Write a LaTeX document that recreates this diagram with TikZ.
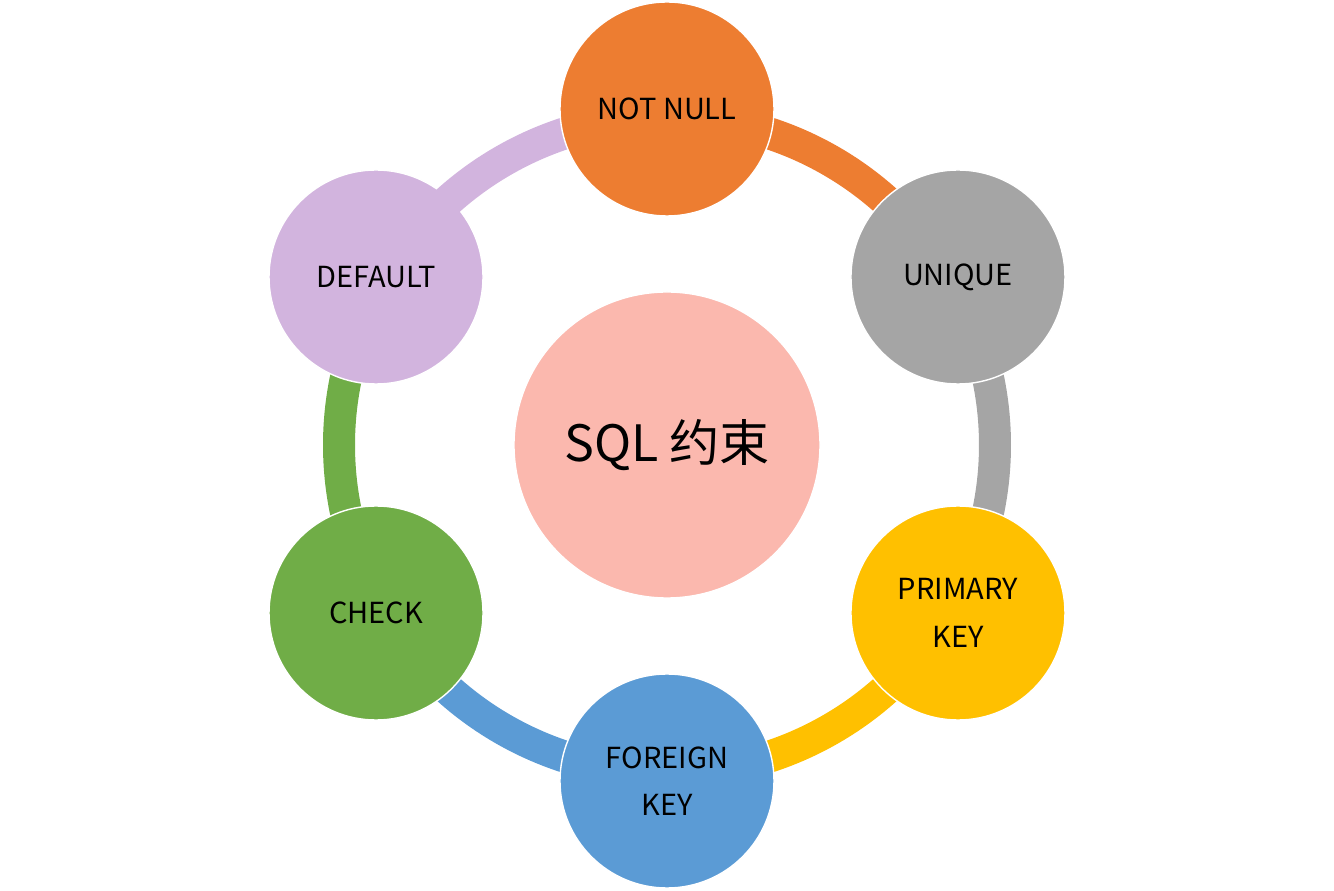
\documentclass[tikz,border=0pt]{standalone}
\usepackage{fontspec}
\setmainfont{Noto Sans CJK SC}
\definecolor{laranja}{HTML}{ED7D31}
\definecolor{cinza}{HTML}{A5A5A5}
\definecolor{amarelo}{HTML}{FFC000}
\definecolor{azul}{HTML}{5B9BD5}
\definecolor{verde}{HTML}{70AD47}
\definecolor{lilas}{HTML}{D2B4DE}
\definecolor{salmao}{HTML}{FBB8AE}
\tikzset{
    nucleo/.style={circle, draw=white, line width=0.8pt, fill=salmao, minimum size=6.12cm, inner sep=0pt, align=center, font=\fontsize{28.5}{40}\selectfont},
    restricao/.style={circle, draw=white, line width=0.8pt, minimum size=4.28cm, inner sep=0pt, align=center, font=\fontsize{16.5}{27}\selectfont},
    arco/.style={line width=0.64cm}
}
\begin{document}
\begin{tikzpicture}

    \useasboundingbox (-13.34,-8.92) rectangle (13.34,8.90);

    % Pontos dos arcos (anel interno)
    \coordinate (p_notnull) at (90:6.56);
    \coordinate (p_unique) at (30:6.56);
    \coordinate (p_primary) at (-30:6.56);
    \coordinate (p_foreign) at (-90:6.56);
    \coordinate (p_check) at (-150:6.56);
    \coordinate (p_default) at (142:6.56);

    % Arcos por baixo dos circulos
    \draw [arco, draw=laranja] (p_notnull) arc[start angle=90, end angle=30, radius=6.56];
    \draw [arco, draw=cinza] (p_unique) arc[start angle=30, end angle=-30, radius=6.56];
    \draw [arco, draw=amarelo] (p_primary) arc[start angle=-30, end angle=-90, radius=6.56];
    \draw [arco, draw=azul] (p_foreign) arc[start angle=-90, end angle=-150, radius=6.56];
    \draw [arco, draw=verde] (p_check) arc[start angle=-150, end angle=-210, radius=6.56];

    % Centro
    \node (sql) [nucleo] at (0,0) {SQL 约束};

    % Restricoes
    \node (unique) [restricao, fill=cinza] at (30:6.72) {UNIQUE};
    \node (primary) [restricao, fill=amarelo] at (-30:6.72) {PRIMARY\\KEY};
    \node (foreign) [restricao, fill=azul] at (-90:6.72) {FOREIGN\\KEY};
    \node (check) [restricao, fill=verde] at (-150:6.72) {CHECK};
    \node (default) [restricao, fill=lilas] at (150:6.72) {DEFAULT};

    % Arco lilas por cima do DEFAULT
    \draw [arco, draw=lilas] (p_default) arc[start angle=142, end angle=90, radius=6.56];

    \node (notnull) [restricao, fill=laranja] at (90:6.72) {NOT NULL};

\end{tikzpicture}
\end{document}
